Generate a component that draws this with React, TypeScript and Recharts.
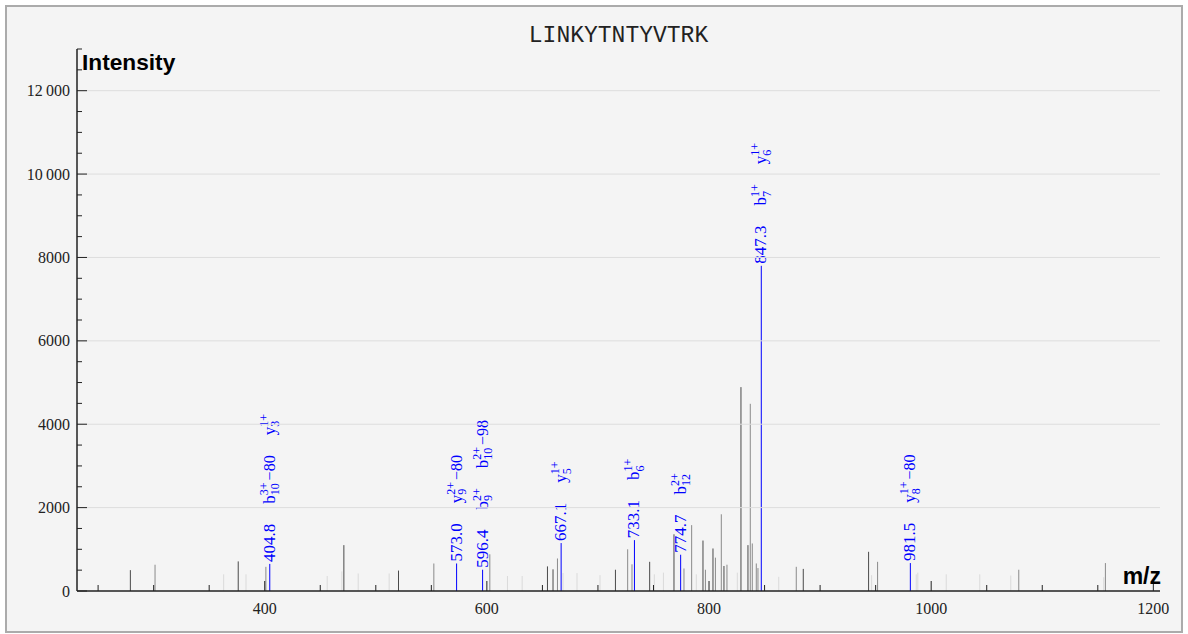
import React from "react";
import { BarChart, Bar, XAxis, YAxis, ReferenceLine } from "recharts";

// ---------- data ----------
const lightMz = [363.3, 383.4, 456.5, 469.7, 484.4, 512.3, 618.8, 632.0, 668.8, 681.4, 702.1, 751.0, 759.2, 788.8, 825.7, 863.0, 946.6, 986.8, 988.2, 1013.8, 1044.0, 1071.9, 1155.6];
const lightIntensity = [400, 400, 360, 470, 420, 420, 360, 360, 430, 430, 380, 400, 440, 400, 440, 340, 380, 400, 440, 400, 400, 370, 330];

const midMz = [301.5, 401.3, 552.5, 602.9, 663.8, 727.0, 730.9, 777.7, 784.6, 797.0, 806.0, 811.3, 816.4, 837.4, 839.2, 842.8, 844.3, 878.8, 952.0, 1079.1, 1157.1];
const midIntensity = [630, 580, 660, 880, 780, 1000, 640, 540, 1580, 510, 800, 1840, 630, 4490, 1140, 660, 550, 580, 700, 510, 670];

const darkMz = [279.3, 376.4, 471.5, 520.7, 654.8, 659.8, 716.0, 746.8, 768.7, 794.8, 803.8, 813.7, 829.0, 835.3, 885.1, 943.9];
const darkIntensity = [500, 710, 1100, 490, 590, 520, 510, 700, 1360, 1210, 1020, 600, 4890, 1100, 530, 940];

const ionMz = [404.8, 573.0, 596.4, 667.1, 733.1, 774.7, 847.3, 981.5];
const ionIntensity = [650, 660, 510, 1150, 1220, 870, 7800, 670];
type IonLabel = { ion: string; index: string; charge: string; loss: string };
const ionLabels: IonLabel[][] = [
  [{ ion: "b", index: "10", charge: "3+", loss: "−80" }, { ion: "y", index: "3", charge: "1+", loss: "" }],
  [{ ion: "y", index: "9", charge: "2+", loss: "−80" }],
  [{ ion: "b", index: "9", charge: "2+", loss: "" }, { ion: "b", index: "10", charge: "2+", loss: "−98" }],
  [{ ion: "y", index: "5", charge: "1+", loss: "" }],
  [{ ion: "b", index: "6", charge: "1+", loss: "" }],
  [{ ion: "b", index: "12", charge: "2+", loss: "" }],
  [{ ion: "b", index: "7", charge: "1+", loss: "" }, { ion: "y", index: "6", charge: "1+", loss: "" }],
  [{ ion: "y", index: "8", charge: "1+", loss: "−80" }],
];

const title = "LINKYTNTYVTRK";
const xDomain = [231, 1206];
const yDomain = [0, 13000];
const xTicks = [250, 300, 350, 400, 450, 500, 550, 600, 650, 700, 750, 800, 850, 900, 950, 1000, 1050, 1100, 1150, 1200];
const xLabelTicks = [400, 600, 800, 1000, 1200];
const yTicks = [0, 500, 1000, 1500, 2000, 2500, 3000, 3500, 4000, 4500, 5000, 5500, 6000, 6500, 7000, 7500, 8000, 8500, 9000, 9500, 10000, 10500, 11000, 11500, 12000, 12500, 13000];
const yLabelTicks = [0, 2000, 4000, 6000, 8000, 10000, 12000];

// ---------- table built from the arrays ----------
type Peak = { mz: number; intensity: number; group: string; labels?: IonLabel[] };
const table: Peak[] = [
  ...lightMz.map((mz, i) => ({ mz, intensity: lightIntensity[i], group: "light" })),
  ...midMz.map((mz, i) => ({ mz, intensity: midIntensity[i], group: "mid" })),
  ...darkMz.map((mz, i) => ({ mz, intensity: darkIntensity[i], group: "dark" })),
  ...ionMz.map((mz, i) => ({ mz, intensity: ionIntensity[i], group: "ion", labels: ionLabels[i] })),
];

const groupColors: Record<string, string> = {
  light: "#dadada",
  mid: "#8a8a8a",
  dark: "#4a4a4a",
  ion: "#0000ff",
};

const SERIF = "'Liberation Serif', 'Times New Roman', serif";
const SANS = "'Liberation Sans', Arial, sans-serif";
const FS = 17;
const SFS = 12;
const LFS = 16;
const GAP = 20;
const charW: Record<string, number> = {
  "0": 0.5, "1": 0.5, "2": 0.5, "3": 0.5, "4": 0.5, "5": 0.5, "6": 0.5, "7": 0.5, "8": 0.5, "9": 0.5,
  ".": 0.25, b: 0.5, y: 0.5, "+": 0.564, "−": 0.564, " ": 0.25,
};
const tw = (s: string, fs: number) => [...s].reduce((a, c) => a + (charW[c] ?? 0.5) * fs, 0);

function IonAnnotation({ cx, top, mz, labels }: { cx: number; top: number; mz: number; labels: IonLabel[] }) {
  const items: React.ReactNode[] = [];
  let pos = 2;
  const v = mz.toFixed(1);
  items.push(<text key="v" x={pos} y={5} fontSize={FS}>{v}</text>);
  pos += tw(v, FS) + GAP;
  labels.forEach((l, k) => {
    items.push(<text key={k + "i"} x={pos} y={5} fontSize={FS}>{l.ion}</text>);
    const bx = pos + tw(l.ion, FS);
    items.push(<text key={k + "c"} x={bx} y={-2} fontSize={SFS}>{l.charge}</text>);
    items.push(<text key={k + "n"} x={bx} y={9.5} fontSize={SFS}>{l.index}</text>);
    let end = bx + Math.max(tw(l.charge, SFS), tw(l.index, SFS));
    if (l.loss) {
      const lx = end + 2;
      items.push(<text key={k + "l"} x={lx} y={5} fontSize={LFS}>{l.loss}</text>);
      end = lx + tw(l.loss, LFS);
    }
    pos = end + GAP;
  });
  return (
    <g transform={`translate(${cx},${top}) rotate(-90)`} fill="#0000ff" fontFamily={SERIF}>
      {items}
    </g>
  );
}

const PeakShape = (props: any) => {
  const { x, y, width, height, payload } = props;
  if (x == null || y == null) return null;
  const cx = x + width / 2;
  const color = groupColors[payload.group];
  return (
    <g>
      <line x1={cx} x2={cx} y1={y} y2={y + height} stroke={color} strokeWidth={1} />
      {payload.labels && <IonAnnotation cx={cx} top={y} mz={payload.mz} labels={payload.labels} />}
    </g>
  );
};

const fmtY = (v: number) => {
  if (v >= 10000) {
    const s = String(v);
    return s.slice(0, s.length - 3) + "\u2009" + s.slice(s.length - 3);
  }
  return String(v);
};

const YTick = (props: any) => {
  const { x, y, payload } = props;
  const axisX = x + 8;
  const v = payload.value;
  const major = yLabelTicks.includes(v);
  return (
    <g>
      <line x1={axisX} x2={axisX + (major ? 10 : 5)} y1={y} y2={y} stroke="#222" strokeWidth={1} />
      {major && (
        <text x={axisX - 7} y={y + 5.5} textAnchor="end" fontFamily={SERIF} fontSize={16} fill="#222">
          {fmtY(v)}
        </text>
      )}
    </g>
  );
};

const XTick = (props: any) => {
  const { x, y, payload } = props;
  const axisY = y - 8;
  const v = payload.value;
  const major = xLabelTicks.includes(v);
  return (
    <g>
      <line x1={x} x2={x} y1={axisY} y2={axisY - (major ? 10 : 6)} stroke="#222" strokeWidth={1} />
      {major && (
        <text x={x} y={axisY + 22.5} textAnchor="middle" fontFamily={SERIF} fontSize={16} fill="#222">
          {v}
        </text>
      )}
    </g>
  );
};

export default function App() {
  return (
    <div style={{ position: "absolute", left: 0, top: 0, width: 1188, height: 634, background: "#ffffff" }}>
      <div
        style={{
          position: "absolute",
          left: 5,
          top: 5,
          width: 1178,
          height: 628,
          boxSizing: "border-box",
          border: "2px solid #ababab",
          background: "#f4f4f4",
        }}
      />
      <div style={{ position: "absolute", left: 0, top: 0 }}>
        <BarChart
          width={1188}
          height={634}
          data={table}
          margin={{ top: 49, right: 28, bottom: 13, left: 7 }}
          barSize={1}
        >
          {yLabelTicks.filter((v) => v > 0).map((v) => (
            <ReferenceLine key={v} y={v} stroke="#dddddd" strokeWidth={1} />
          ))}
          <XAxis
            dataKey="mz"
            type="number"
            domain={xDomain}
            ticks={xTicks}
            interval={0}
            allowDataOverflow
            tick={(p: any) => <XTick {...p} />}
            tickLine={false}
            tickSize={6}
            tickMargin={2}
            height={30}
            axisLine={{ stroke: "#222", strokeWidth: 1.5 }}
          />
          <YAxis
            type="number"
            domain={yDomain}
            ticks={yTicks}
            interval={0}
            allowDataOverflow
            tick={(p: any) => <YTick {...p} />}
            tickLine={false}
            tickSize={6}
            tickMargin={2}
            width={70}
            axisLine={{ stroke: "#222", strokeWidth: 1.5 }}
          />
          <Bar dataKey="intensity" isAnimationActive={false} shape={PeakShape} />
        </BarChart>
      </div>
      <div
        style={{
          position: "absolute",
          left: 0,
          width: 1237,
          top: 25,
          textAlign: "center",
          fontFamily: "'Liberation Mono', 'Courier New', monospace",
          fontSize: 23,
          lineHeight: "23px",
          color: "#222",
        }}
      >
        {title}
      </div>
      <div
        style={{
          position: "absolute",
          left: 82,
          top: 49,
          fontFamily: SANS,
          fontWeight: "bold",
          fontSize: 22.7,
          lineHeight: "26px",
          color: "#000",
        }}
      >
        Intensity
      </div>
      <div
        style={{
          position: "absolute",
          right: 1188 - 1161,
          top: 562,
          fontFamily: SANS,
          fontWeight: "bold",
          fontSize: 23,
          lineHeight: "28px",
          color: "#000",
        }}
      >
        m/z
      </div>
    </div>
  );
}
